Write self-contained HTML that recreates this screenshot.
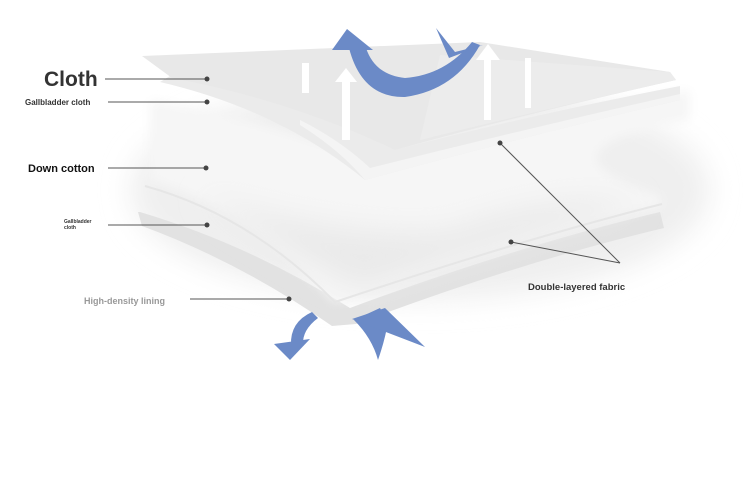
<!DOCTYPE html>
<html><head><meta charset="utf-8"><style>
body{margin:0;background:#fff;width:750px;height:500px;overflow:hidden}
svg{display:block}
text{font-family:"Liberation Sans","DejaVu Sans",sans-serif;font-weight:bold}
</style></head><body>
<svg width="750" height="500" viewBox="0 0 750 500">
<defs>
<filter id="b" x="-20%" y="-20%" width="140%" height="140%"><feGaussianBlur stdDeviation="14"/></filter>
<filter id="b2" x="-10%" y="-10%" width="120%" height="120%"><feGaussianBlur stdDeviation="5"/></filter>
</defs>
<!-- outer cotton haze -->
<ellipse cx="420" cy="190" rx="290" ry="110" fill="#efefef" filter="url(#b)"/>
<!-- bottom lining -->
<path d="M138,212 L142,226 Q240,262 332,326 L356,324 Q520,262 664,228 L660,212 Q520,245 350,308 Q250,245 140,212Z" fill="#e2e2e2"/>
<!-- lower gallbladder / cotton body -->
<path d="M150,180 Q250,210 335,302 Q520,240 662,205 L660,196 Q520,150 690,120 L690,90 Q520,120 380,165 Q270,120 150,100Z" fill="#f6f6f6" filter="url(#b2)"/>
<path d="M200,195 Q300,260 360,290 Q500,245 640,205 Q560,190 450,230 Q350,240 200,195Z" fill="#eaeaea" filter="url(#b)"/>
<path d="M145,186 Q250,215 335,302 Q520,240 662,204" fill="none" stroke="#e6e6e6" stroke-width="2"/>
<!-- gallbladder textured band -->
<path d="M160,82 Q280,110 365,180 Q530,135 680,100 L680,86 Q530,115 395,150 Q290,100 170,76Z" fill="#ebebeb"/>
<path d="M300,125 Q340,150 365,180 Q530,135 680,100 L680,94 Q530,128 370,168 Q340,140 300,120Z" fill="#f4f4f4"/>
<!-- top cloth -->
<path d="M142,56 L480,42 L670,72 L676,80 Q520,115 395,150 Q290,100 172,78 Z" fill="#e8e8e8"/>
<path d="M440,55 L670,72 L676,80 Q520,115 420,140 Z" fill="#ececec"/>
<!-- white arrows -->
<rect x="302" y="63" width="7" height="30" fill="#fff"/>
<polygon points="346,68 335,82 357,82" fill="#fff"/><rect x="342" y="80" width="8" height="60" fill="#fff"/>
<polygon points="488,44 476,60 500,60" fill="#fff"/><rect x="484" y="58" width="7" height="62" fill="#fff"/>
<rect x="525" y="58" width="6" height="50" fill="#fff"/>
<!-- blue arrows -->
<g fill="#6b8ac7">
<path d="M349,48 Q362,98 405,97 Q455,90 480,45 L472,42 Q445,75 405,78 Q375,75 366,48 Z"/>
<polygon points="332,50 347,29 373,50"/>
<polygon points="436,28 449,58 483,45 455,52"/>
<path d="M291,345 Q290,322 312,312 L318,318 Q302,330 303,345Z"/>
<polygon points="274,344 310,339 290,360"/>
<path d="M354,320 Q372,338 378,360 Q385,340 388,322 L380,308Z"/>
<polygon points="352,319 385,308 425,347"/>
</g>
<!-- labels -->
<g stroke="#555" stroke-width="1">
<line x1="105" y1="79" x2="207" y2="79"/>
<line x1="108" y1="102" x2="207" y2="102"/>
<line x1="108" y1="168" x2="206" y2="168"/>
<line x1="108" y1="225" x2="207" y2="225"/>
<line x1="190" y1="299" x2="289" y2="299"/>
<line x1="500" y1="143" x2="620" y2="263"/>
<line x1="511" y1="242" x2="620" y2="263"/>
</g>
<g fill="#444">
<circle cx="207" cy="79" r="2.5"/><circle cx="207" cy="102" r="2.5"/><circle cx="206" cy="168" r="2.5"/>
<circle cx="207" cy="225" r="2.5"/><circle cx="289" cy="299" r="2.5"/><circle cx="500" cy="143" r="2.5"/><circle cx="511" cy="242" r="2.5"/>
</g>
<text x="44" y="86" font-size="21" fill="#333">Cloth</text>
<text x="25" y="105" font-size="8" fill="#333">Gallbladder cloth</text>
<text x="28" y="172" font-size="11" fill="#111">Down cotton</text>
<text x="64" y="223" font-size="5" fill="#333">Gallbladder</text>
<text x="64" y="229" font-size="5" fill="#333">cloth</text>
<text x="84" y="304" font-size="9" fill="#999">High-density lining</text>
<text x="528" y="290" font-size="9.5" fill="#333">Double-layered fabric</text>
</svg>
</body></html>
